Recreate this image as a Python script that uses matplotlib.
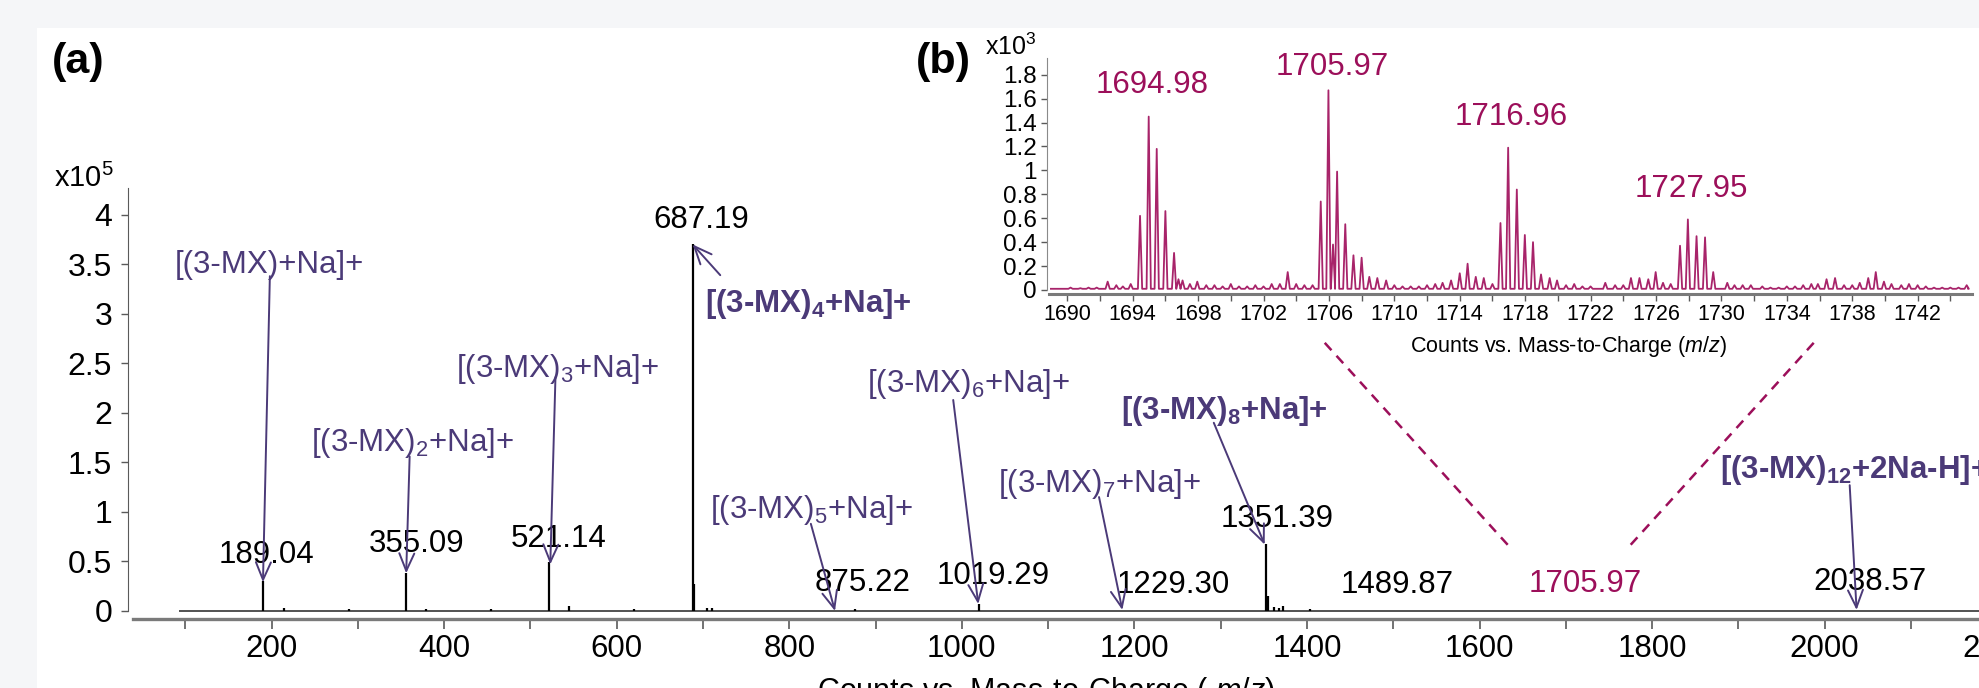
import matplotlib
matplotlib.use('Agg')
import matplotlib.pyplot as plt
from matplotlib.patches import Rectangle
from matplotlib.ticker import MultipleLocator, FuncFormatter

plt.rcParams['font.family'] = ['Liberation Sans', 'DejaVu Sans']
plt.rcParams['mathtext.fontset'] = 'custom'
plt.rcParams['mathtext.rm'] = 'Liberation Sans'
plt.rcParams['mathtext.it'] = 'Liberation Sans:italic'
plt.rcParams['mathtext.bf'] = 'Liberation Sans:bold'

PURPLE = '#4b3a78'
MAGENTA = '#9c0f5a'
TRACE = '#a8246a'
GREY = '#5a5a5a'

# ---- data (a): full scan, centroid sticks, counts x1e5
mz_a = [190, 214, 290, 356, 379, 454, 522, 545, 620, 688, 690, 705, 710,
        876, 1020, 1352, 1355, 1362, 1367, 1372, 1404]
int_a = [0.30, 0.03, 0.015, 0.38, 0.02, 0.015, 0.49, 0.05, 0.015, 3.70, 0.27,
         0.03, 0.03, 0.02, 0.07, 0.68, 0.15, 0.04, 0.03, 0.05, 0.02]
scan_a = [93, 2260]

# peak m/z labels in (a)
num_text = ['189.04', '355.09', '521.14', '687.19', '875.22', '1019.29',
            '1229.30', '1351.39', '1489.87', '2038.57']
num_xy = [(193.5, 0.482), (368.5, 0.593), (532.4, 0.65), (698, 3.866),
          (885, 0.205), (1036, 0.273), (1244.5, 0.182), (1365.6, 0.851),
          (1505, 0.182), (2052, 0.212)]

# ion assignments in (a): text, bold, label position, arrow start, arrow tip
ion_text = [r'[(3-MX)+Na]+',
            r'[(3-MX)$_2$+Na]+',
            r'[(3-MX)$_3$+Na]+',
            r'[(3-MX)$_\mathbf{4}$+Na]+',
            r'[(3-MX)$_5$+Na]+',
            r'[(3-MX)$_6$+Na]+',
            r'[(3-MX)$_7$+Na]+',
            r'[(3-MX)$_\mathbf{8}$+Na]+',
            r'[(3-MX)$_\mathbf{12}$+2Na-H]+']
ion_bold = [False, False, False, True, False, False, False, True, True]
ion_xy = [(197, 3.414), (363.8, 1.613), (531.9, 2.36), (822, 3.02),
          (826.2, 0.939), (1007.5, 2.215), (1159, 1.205), (1304, 1.936),
          (2035, 1.34)]
arrow_from = [(198, 3.38), (360, 1.56), (529, 2.36), (720, 3.39),
              (825, 0.88), (990, 2.13), (1159, 1.15), (1292, 1.90),
              (2029, 1.27)]
arrow_to = [(190, 0.29), (356, 0.38), (523, 0.47), (688, 3.70),
            (853, 0.0), (1019, 0.07), (1186, 0.01), (1351, 0.67),
            (2037, 0.01)]

# zoom region marker
zoom_label = '1705.97'
zoom_label_xy = (1722, 0.189)
zoom_lines = [((1420.6, 2.707), (1633.8, 0.657)),
              ((1987.3, 2.707), (1774.0, 0.657))]

# ---- data (b): isotope clusters, counts x1e3
mz_b = [1690.2, 1690.8, 1691.3, 1691.8, 1692.47, 1693.0, 1693.4, 1693.88,
        1694.45, 1694.98, 1695.47, 1696.0, 1696.53, 1696.8, 1697.05, 1697.5,
        1697.95, 1698.5, 1699.0, 1699.5, 1700.0, 1700.5, 1701.0, 1701.5,
        1702.0, 1702.5, 1703.0, 1703.48, 1704.0, 1704.5, 1705.0,
        1705.5, 1705.97, 1706.25, 1706.5, 1707.0, 1707.5, 1708.0, 1708.47,
        1708.96, 1709.5, 1710.0, 1710.5, 1711.0, 1711.5, 1712.0, 1712.5,
        1712.95, 1713.47, 1714.0, 1714.48, 1714.98, 1715.47, 1716.0,
        1716.49, 1716.96, 1717.49, 1717.98, 1718.48, 1718.97, 1719.5,
        1719.95, 1720.5, 1721.0, 1721.5, 1722.0, 1722.9, 1723.5, 1724.0,
        1724.47, 1724.99, 1725.53, 1725.98, 1726.43, 1726.9,
        1727.47, 1727.95, 1728.48, 1729.0, 1729.5, 1730.36, 1730.8, 1731.3,
        1731.8, 1732.5, 1733.0, 1733.5, 1734.0, 1734.5, 1735.0, 1735.5,
        1735.9, 1736.43, 1736.95, 1737.5, 1738.0, 1738.46, 1738.98,
        1739.44, 1739.94, 1740.4, 1741.0, 1741.47, 1742.0, 1742.5, 1743.0,
        1743.5, 1744.0, 1744.5, 1745.0]
int_b = [0.02, 0.015, 0.02, 0.02, 0.07, 0.04, 0.03, 0.05,
         0.62, 1.45, 1.18, 0.66, 0.31, 0.09, 0.08, 0.05,
         0.07, 0.04, 0.04, 0.03, 0.05, 0.03, 0.03, 0.04,
         0.03, 0.05, 0.05, 0.15, 0.05, 0.04, 0.04,
         0.74, 1.67, 0.38, 0.99, 0.55, 0.29, 0.27, 0.11,
         0.10, 0.08, 0.04, 0.03, 0.03, 0.03, 0.04, 0.05,
         0.06, 0.08, 0.14, 0.22, 0.11, 0.10, 0.05,
         0.56, 1.19, 0.84, 0.46, 0.40, 0.13, 0.10,
         0.08, 0.04, 0.05, 0.03, 0.03, 0.06, 0.04, 0.04,
         0.10, 0.10, 0.09, 0.15, 0.06, 0.05,
         0.37, 0.59, 0.45, 0.44, 0.15, 0.06, 0.04, 0.04,
         0.04, 0.03, 0.02, 0.02, 0.03, 0.03, 0.04, 0.05,
         0.05, 0.09, 0.10, 0.04, 0.04, 0.06, 0.10,
         0.15, 0.07, 0.05, 0.04, 0.05, 0.04, 0.03, 0.02,
         0.02, 0.02, 0.02, 0.04]
base_b = 0.01
range_b = [1689.0, 1745.1]

iso_text = ['1694.98', '1705.97', '1716.96', '1727.95']
iso_xy = [(1695.21, 1.647), (1706.19, 1.80), (1717.16, 1.38), (1728.13, 0.78)]

W, H = 1979, 688


def box(x0, ytop, x1, ybot):
    return [x0 / W, 1 - ybot / H, (x1 - x0) / W, (ybot - ytop) / H]


fig = plt.figure(figsize=(W / 100, H / 100), dpi=100, facecolor='#f5f6f8')
fig.patches.append(Rectangle((37 / W, 0), 1, 1 - 28 / H, transform=fig.transFigure,
                             facecolor='white', edgecolor='none', zorder=-5))

# ---------------- (a) main spectrum
ax = fig.add_axes(box(127.5, 188, 2049, 619))
ax.set_facecolor('none')
ax.set_xlim(33, 2260)
ax.set_ylim(-0.081, 4.27)
ax.hlines(0, scan_a[0], scan_a[1], color='#333333', lw=1.2)
ax.vlines(mz_a, 0, int_a, color='black', lw=1.6)

for s in ['top', 'right']:
    ax.spines[s].set_visible(False)
ax.spines['left'].set_bounds(0, 4.27)
ax.spines['left'].set_color(GREY)
ax.spines['bottom'].set_bounds(39, 2260)
ax.spines['bottom'].set_color('#7a7a7a')
ax.spines['bottom'].set_linewidth(2.4)

ax.set_yticks([0, 0.5, 1, 1.5, 2, 2.5, 3, 3.5, 4])
ax.yaxis.set_major_formatter(FuncFormatter(lambda v, p: f'{v:g}'))
ax.xaxis.set_major_locator(MultipleLocator(100))
ax.xaxis.set_major_formatter(FuncFormatter(lambda v, p: f'{int(v)}' if round(v) % 200 == 0 else ''))
ax.tick_params(axis='y', direction='out', length=5, width=1, color=GREY, labelsize=23, pad=6)
ax.tick_params(axis='x', direction='out', length=7, width=1.2, color=GREY, labelsize=22.5, pad=4)

for t, (x, y) in zip(num_text, num_xy):
    ax.text(x, y, t, fontsize=22.5, ha='center', va='baseline', color='black')

for t, b, (x, y) in zip(ion_text, ion_bold, ion_xy):
    ax.text(x, y, t, fontsize=22.5, ha='center', va='baseline', color=PURPLE,
            fontweight='bold' if b else 'normal')

for p0, p1 in zip(arrow_from, arrow_to):
    ax.annotate('', xy=p1, xytext=p0,
                arrowprops=dict(arrowstyle='->,head_length=0.7,head_width=0.3',
                                color=PURPLE, lw=1.4, shrinkA=0, shrinkB=0,
                                mutation_scale=18))

ax.text(zoom_label_xy[0], zoom_label_xy[1], zoom_label, fontsize=22.5,
        ha='center', va='baseline', color=MAGENTA)
for (xa, ya), (xb, yb) in zoom_lines:
    ax.plot([xa, xb], [ya, yb], color=MAGENTA, lw=1.8, ls=(0, (4, 3)))

fig.text(84 / W, 1 - 178 / H, r'x10$^5$', fontsize=21, ha='center', va='center')
fig.text(78 / W, 1 - 62 / H, '(a)', fontsize=31, fontweight='bold', ha='center', va='center')
fig.text(1046 / W, 1 - 700 / H, r'Counts vs. Mass-to-Charge ( $m/z$)', fontsize=22,
         ha='center', va='baseline')

# ---------------- (b) inset zoom
ai = fig.add_axes(box(1046.5, 58, 1971.6, 294.3))
ai.set_facecolor('none')
ai.set_xlim(1688.73, 1745.3)
ai.set_ylim(-0.036, 1.94)

tx, ty = [range_b[0]], [base_b]
for m, h in sorted(zip(mz_b, int_b)):
    tx += [m - 0.13, m, m + 0.13]
    ty += [base_b, h, base_b]
tx.append(range_b[1])
ty.append(base_b)
ai.plot(tx, ty, color=TRACE, lw=1.3)

for s in ['top', 'right']:
    ai.spines[s].set_visible(False)
ai.spines['left'].set_bounds(0, 1.94)
ai.spines['left'].set_color('#8a8a8a')
ai.spines['bottom'].set_color('#7a7a7a')
ai.spines['bottom'].set_linewidth(2.2)
ai.spines['bottom'].set_bounds(1688.9, 1745.3)

ai.set_yticks([0, 0.2, 0.4, 0.6, 0.8, 1, 1.2, 1.4, 1.6, 1.8])
ai.yaxis.set_major_formatter(FuncFormatter(lambda v, p: f'{v:g}'))
ai.xaxis.set_major_locator(MultipleLocator(2))
ai.xaxis.set_major_formatter(FuncFormatter(lambda v, p: f'{int(round(v))}' if round(v - 1690) % 4 == 0 else ''))
ai.tick_params(axis='y', direction='out', length=4, width=1, color=GREY, labelsize=17.5, pad=3)
ai.tick_params(axis='x', direction='out', length=5, width=1, color=GREY, labelsize=15.5, pad=2)

for t, (x, y) in zip(iso_text, iso_xy):
    ai.text(x, y, t, fontsize=22.5, ha='center', va='baseline', color=MAGENTA)

fig.text(1011 / W, 1 - 47 / H, r'x10$^3$', fontsize=18, ha='center', va='center')
fig.text(943 / W, 1 - 62 / H, '(b)', fontsize=31, fontweight='bold', ha='center', va='center')
fig.text(1569 / W, 1 - 352 / H, r'Counts vs. Mass-to-Charge ($m/z$)', fontsize=15.5,
         ha='center', va='baseline')

fig.savefig('out.png', dpi=100, facecolor=fig.get_facecolor())
